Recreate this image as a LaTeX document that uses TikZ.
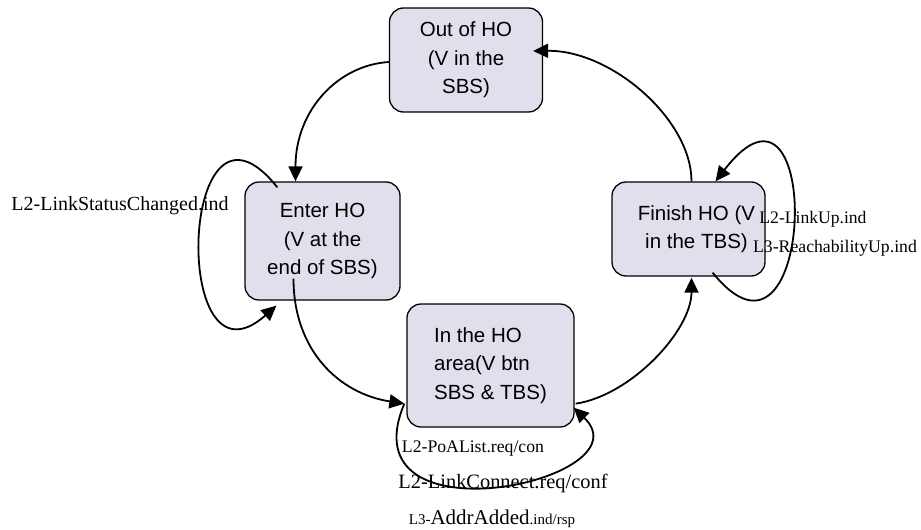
\documentclass[tikz,border=0pt]{standalone}
\usepackage{fontspec}
\setmainfont{Liberation Serif}
\setsansfont{Liberation Sans}
\usetikzlibrary{arrows.meta,calc}
\definecolor{statefill}{RGB}{227,222,236}

\begin{document}
\begin{tikzpicture}[x=1pt,y=-1pt,
    state/.style={draw,line width=1.3pt,rounded corners=14pt,fill=statefill,
      font=\sffamily\fontsize{20.5}{28.5}\selectfont,align=center,inner sep=0pt},
    trans/.style={line width=1.8pt,-{Triangle[length=15pt,width=14pt]}},
    lbl/.style={inner sep=0pt,font=\fontsize{#1}{#1}\selectfont}]
    \useasboundingbox (0,0) rectangle (921,530);

    \node[state,minimum width=153pt,minimum height=104pt] (s1) at (466,60) {Out of HO\\(V in the\\SBS)};
    \node[state,minimum width=155pt,minimum height=118pt] (s2) at (322.5,241) {Enter HO\\(V at the\\end of SBS)};
    \node[state,minimum width=167pt,minimum height=123pt,align=left] (s3) at (490.5,365.5) {In the HO\\area(V btn\\SBS \& TBS)};
    \node[state,minimum width=153pt,minimum height=94pt] (s4) at (688.5,229) {\hspace*{16pt}Finish HO (V\\\hspace*{16pt}in the TBS)};

    \draw[trans] ($(s1.west)+(0,2)$) .. controls +(-50,3) and +(0,-72) .. ($(s2.north)+(-27,0)$);
    \draw[trans] ($(s2.south)+(-29,-22)$) .. controls +(0,72) and +(-65,-10) .. ($(s3.south west)+(-2,-24)$);
    \draw[trans] ($(s3.south east)+(1,-24)$) .. controls +(55,-8) and +(0,53) .. ($(s4.south)+(3,1)$);
    \draw[trans] ($(s4.north)+(3,0)$) .. controls +(0,-62) and +(78,-1) .. ($(s1.east)+(-10,-9)$);

    \draw[trans] ($(s2.north west)+(33,6)$) .. controls +(-98,-123) and +(-107,95) .. ($(s2.south west)+(32,5)$);
    \draw[trans] ($(s4.south east)+(-53,-4)$) .. controls +(103,128) and +(109,-141) .. ($(s4.north)+(27,0)$);
    \draw[trans] ($(s3.south west)+(-2,-24)$) .. controls +(-60,142) and +(76,73) .. ($(s3.south east)+(-1,-20)$);

    \node[lbl=20] (t1) at (120,206) {L2-LinkStatusChanged.ind};
    \node[lbl=17.6] (t2) at (813,219) {L2-LinkUp.ind};
    \node[lbl=17.7] (t3) at (835,248) {L3-ReachabilityUp.ind};
    \node[lbl=17.7] (t4) at (473,449) {L2-PoAList.req/con};
    \node[lbl=20.4] (t5) at (503,483) {L2-LinkConnect.req/conf};
    \node[lbl=21] (t6) at (492,519) {{\fontsize{15}{15}\selectfont L3-}AddrAdded{\fontsize{15}{15}\selectfont .ind/rsp}};
\end{tikzpicture}
\end{document}
